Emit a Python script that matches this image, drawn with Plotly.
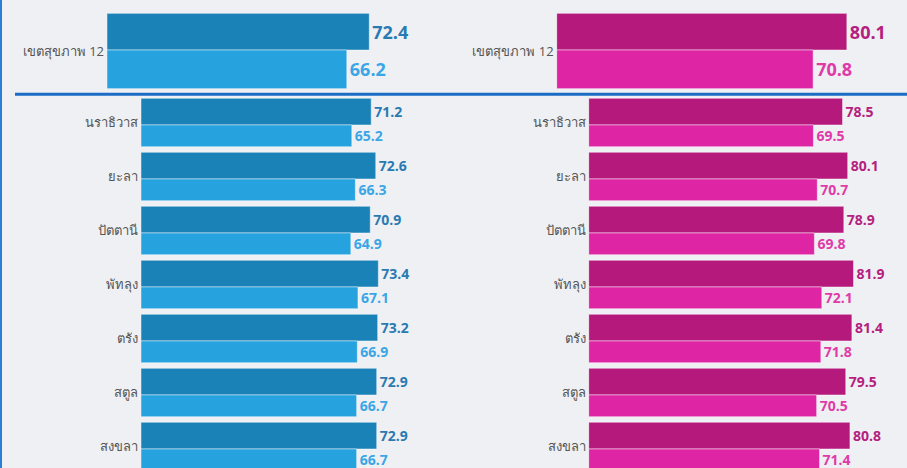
import plotly.graph_objects as go

# ข้อมูล
เขต = ["เขตสุขภาพ 12"]
จังหวัด = ["นราธิวาส", "ยะลา", "ปัตตานี", "พัทลุง", "ตรัง", "สตูล", "สงขลา"]

ชาย_เขต_แรกเกิด = [72.4]
ชาย_เขต_สุขภาพดี = [66.2]
หญิง_เขต_แรกเกิด = [80.1]
หญิง_เขต_สุขภาพดี = [70.8]

ชาย_แรกเกิด = [71.2, 72.6, 70.9, 73.4, 73.2, 72.9, 72.9]
ชาย_สุขภาพดี = [65.2, 66.3, 64.9, 67.1, 66.9, 66.7, 66.7]
หญิง_แรกเกิด = [78.5, 80.1, 78.9, 81.9, 81.4, 79.5, 80.8]
หญิง_สุขภาพดี = [69.5, 70.7, 69.8, 72.1, 71.8, 70.5, 71.4]

BG = "#eff0f3"
BLUE_DARK = "#1b82b8"
BLUE_LIGHT = "#26a2df"
PINK_DARK = "#b5197c"
PINK_LIGHT = "#de26a4"
FONT = "Open Sans, Noto Sans, sans-serif"

W, H = 907, 468


def px_x(a, b):
    return [a / W, b / W]


def px_y(top, bottom):
    return [1 - bottom / H, 1 - top / H]


fig = go.Figure()


def add_pair(y, dark, light, cdark, clight, tdark, tlight, xa, ya, size, geo):
    off_d, w_d, off_l, w_l = geo
    fig.add_trace(go.Bar(
        y=y, x=dark, orientation='h',
        marker=dict(color=cdark, line=dict(color='rgba(255,255,255,0.45)', width=1)),
        offset=off_d, width=w_d,
        text=[f"{v:.1f}" for v in dark], textposition='outside',
        textfont=dict(family=FONT, size=size, color=tdark, weight='bold'),
        cliponaxis=False, constraintext='none',
        xaxis=xa, yaxis=ya, showlegend=False, hoverinfo='skip'
    ))
    fig.add_trace(go.Bar(
        y=y, x=light, orientation='h',
        marker=dict(color=clight, line=dict(color='rgba(255,255,255,0.45)', width=1)),
        offset=off_l, width=w_l,
        text=[f"{v:.1f}" for v in light], textposition='outside',
        textfont=dict(family=FONT, size=size, color=tlight, weight='bold'),
        cliponaxis=False, constraintext='none',
        xaxis=xa, yaxis=ya, showlegend=False, hoverinfo='skip'
    ))


top_geo = (-0.5, 0.487, -0.013, 0.513)
bot_geo = (-0.448, 0.494, 0.046, 0.402)

# เขตสุขภาพ (บน)
add_pair(เขต, ชาย_เขต_แรกเกิด, ชาย_เขต_สุขภาพดี, BLUE_DARK, BLUE_LIGHT,
         "#2a7ab2", "#3ba6e6", 'x', 'y', 18, top_geo)
add_pair(เขต, หญิง_เขต_แรกเกิด, หญิง_เขต_สุขภาพดี, PINK_DARK, PINK_LIGHT,
         "#b5207f", "#e03aa8", 'x2', 'y2', 18, top_geo)

# รายจังหวัด (ล่าง)
add_pair(จังหวัด, ชาย_แรกเกิด, ชาย_สุขภาพดี, BLUE_DARK, BLUE_LIGHT,
         "#2a7ab2", "#3ba6e6", 'x3', 'y3', 14, bot_geo)
add_pair(จังหวัด, หญิง_แรกเกิด, หญิง_สุขภาพดี, PINK_DARK, PINK_LIGHT,
         "#b5207f", "#e03aa8", 'x4', 'y4', 14, bot_geo)

xcommon = dict(range=[0, 90], visible=False, fixedrange=True)
ycommon = dict(showgrid=False, showline=False, zeroline=False, ticks='',
               ticklabelstandoff=2, tickfont=dict(family=FONT, size=13, color='#555555'))

bot_span = (H - 95.5) / 54

fig.update_layout(
    width=W, height=H,
    margin=dict(l=0, r=0, t=0, b=0),
    paper_bgcolor=BG, plot_bgcolor=BG,
    barmode='overlay',
    xaxis=dict(domain=px_x(107, 433), anchor='y', **xcommon),
    xaxis2=dict(domain=px_x(556.7, 882.7), anchor='y2', **xcommon),
    xaxis3=dict(domain=px_x(141, 432), anchor='y3', **xcommon),
    xaxis4=dict(domain=px_x(588.7, 879.7), anchor='y4', **xcommon),
    yaxis=dict(domain=px_y(13.3, 88.7), anchor='x', range=[0.5, -0.5], **ycommon),
    yaxis2=dict(domain=px_y(13.3, 88.7), anchor='x2', range=[0.5, -0.5], **ycommon),
    yaxis3=dict(domain=px_y(95.5, H), anchor='x3', range=[-0.5 + bot_span, -0.5], **ycommon),
    yaxis4=dict(domain=px_y(95.5, H), anchor='x4', range=[-0.5 + bot_span, -0.5], **ycommon),
    shapes=[
        dict(type='line', xref='paper', yref='paper', x0=15 / W, x1=1,
             y0=1 - 94.3 / H, y1=1 - 94.3 / H, line=dict(color='#1a6cc4', width=3)),
        dict(type='line', xref='paper', yref='paper', x0=1 / W, x1=1 / W,
             y0=0, y1=1, line=dict(color='#2a7fd4', width=2)),
    ],
)

fig.write_html(
    "out.html",
    config={'displayModeBar': False},
    post_script="document.body.style.margin='0';document.body.style.overflow='hidden';"
)
